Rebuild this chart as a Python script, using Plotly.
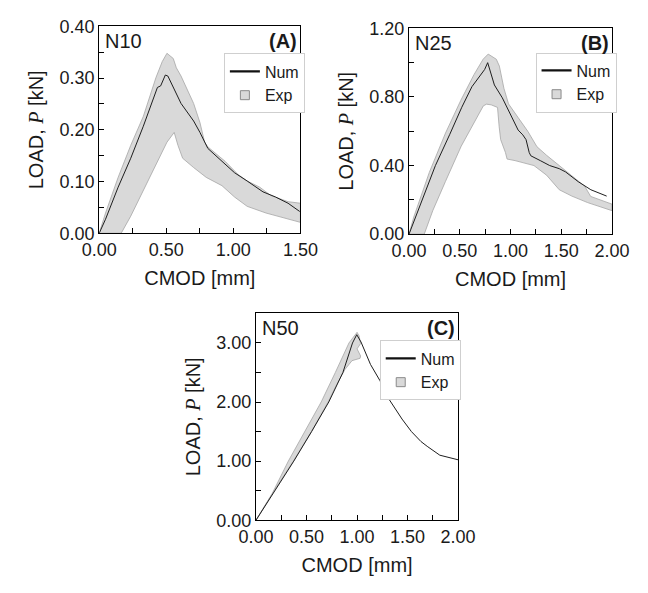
import plotly.graph_objects as go

# ---------------- N10 ----------------
a_num_x = [0.0, 0.047, 0.141, 0.235, 0.329, 0.434, 0.458, 0.493, 0.512, 0.563, 0.610,
           0.704, 0.751, 0.810, 0.892, 1.009, 1.103, 1.221, 1.315, 1.408, 1.495]
a_num_y = [0.0, 0.027, 0.089, 0.145, 0.207, 0.282, 0.285, 0.306, 0.304, 0.276, 0.251,
           0.217, 0.195, 0.164, 0.145, 0.117, 0.101, 0.080, 0.070, 0.058, 0.042]

a_exp_up_x = [0.0, 0.047, 0.141, 0.235, 0.329, 0.423, 0.470, 0.505, 0.552, 0.575, 0.610,
              0.669, 0.704, 0.751, 0.786, 0.810, 0.939, 1.033, 1.103, 1.197, 1.279, 1.408, 1.5]
a_exp_up_y = [0.0, 0.039, 0.108, 0.170, 0.226, 0.301, 0.332, 0.348, 0.338, 0.320, 0.304,
              0.270, 0.251, 0.214, 0.176, 0.167, 0.139, 0.114, 0.101, 0.089, 0.073, 0.061, 0.058]
a_exp_lo_x = [0.0, 0.164, 0.235, 0.329, 0.423, 0.505, 0.559, 0.587, 0.622, 0.704, 0.798,
              0.915, 1.009, 1.103, 1.244, 1.408, 1.5]
a_exp_lo_y = [0.0, 0.0, 0.033, 0.083, 0.133, 0.176, 0.195, 0.170, 0.145, 0.127, 0.108,
              0.092, 0.070, 0.052, 0.039, 0.027, 0.021]

# ---------------- N25 ----------------
b_num_x = [0.0, 0.13, 0.26, 0.40, 0.52, 0.62, 0.70, 0.745, 0.775, 0.81, 0.841, 0.919,
           0.981, 1.075, 1.121, 1.153, 1.184, 1.20, 1.293, 1.386, 1.48, 1.542, 1.667,
           1.791, 1.947]
b_num_y = [0.0, 0.20, 0.40, 0.58, 0.74, 0.86, 0.92, 0.96, 1.0, 0.927, 0.870, 0.795,
           0.720, 0.607, 0.579, 0.551, 0.476, 0.457, 0.429, 0.400, 0.382, 0.363, 0.306,
           0.259, 0.222]

b_exp_up_x = [0.0, 0.047, 0.20, 0.36, 0.51, 0.64, 0.73, 0.78, 0.86, 0.89, 0.935, 0.98,
              1.075, 1.17, 1.26, 1.355, 1.48, 1.60, 1.73, 1.79, 1.92, 2.0]
b_exp_up_y = [0.0, 0.10, 0.36, 0.59, 0.78, 0.93, 1.02, 1.05, 1.02, 0.98, 0.85, 0.76,
              0.68, 0.60, 0.51, 0.46, 0.40, 0.34, 0.28, 0.22, 0.19, 0.175]
b_exp_lo_x = [0.0, 0.15, 0.234, 0.358, 0.514, 0.67, 0.732, 0.763, 0.81, 0.872, 0.888,
              0.903, 0.95, 0.966, 1.044, 1.231, 1.355, 1.48, 1.604, 1.76, 2.0]
b_exp_lo_y = [0.0, 0.0, 0.137, 0.306, 0.513, 0.682, 0.748, 0.758, 0.754, 0.739, 0.626,
              0.551, 0.476, 0.438, 0.429, 0.400, 0.344, 0.259, 0.222, 0.184, 0.137]

# ---------------- N50 ----------------
c_num_x = [0.0, 0.19, 0.374, 0.55, 0.72, 0.86, 0.955, 0.997, 1.039, 1.133, 1.226,
           1.32, 1.445, 1.538, 1.632, 1.694, 1.788, 1.819, 2.0]
c_num_y = [0.0, 0.50, 1.00, 1.50, 2.00, 2.50, 3.00, 3.14, 3.016, 2.636, 2.364,
           2.038, 1.712, 1.50, 1.332, 1.25, 1.13, 1.10, 1.022]

c_exp_up_x = [0.0, 0.16, 0.32, 0.48, 0.645, 0.785, 0.92, 1.0, 1.02, 1.035, 1.0, 1.035, 1.03]
c_exp_up_y = [0.0, 0.45, 1.00, 1.50, 2.00, 2.50, 3.00, 3.18, 3.12, 2.99, 2.90, 2.78, 2.74]
c_exp_lo_x = [0.0, 0.18, 0.37, 0.55, 0.72, 0.80, 0.88, 0.95, 1.03]
c_exp_lo_y = [0.0, 0.50, 1.00, 1.50, 2.02, 2.30, 2.55, 2.70, 2.74]

# ---------------- styling ----------------
W, H = 648, 593
FONT = "Liberation Sans, Arial, sans-serif"
INK = "#1a1a1a"
BAND_FILL = "#d9d9d9"
BAND_EDGE = "#a6a6a6"
LINE_COL = "#1e1e1e"


def px_x(p):
    return p / W


def px_y(p):
    return 1 - p / H


def band(up_x, up_y, lo_x, lo_y):
    xs = list(up_x) + list(reversed(lo_x))
    ys = list(up_y) + list(reversed(lo_y))
    return xs, ys


panels = [
    dict(name="N10", tag="(A)", num=(a_num_x, a_num_y),
         exp=band(a_exp_up_x, a_exp_up_y, a_exp_lo_x, a_exp_lo_y),
         xd=(86, 299), yd=(17, 231), xr=[0, 1.5], yr=[0, 0.4],
         xdt=0.5, ydt=0.1, leg=(218, 45)),
    dict(name="N25", tag="(B)", num=(b_num_x, b_num_y),
         exp=band(b_exp_up_x, b_exp_up_y, b_exp_lo_x, b_exp_lo_y),
         xd=(414, 629), yd=(19, 232), xr=[0, 2.0], yr=[0, 1.2],
         xdt=0.5, ydt=0.4, leg=(548, 44)),
    dict(name="N50", tag="(C)", num=(c_num_x, c_num_y),
         exp=band(c_exp_up_x, c_exp_up_y, c_exp_lo_x, c_exp_lo_y),
         xd=(252, 466), yd=(314, 528), xr=[0, 2.0], yr=[0, 3.5],
         xdt=0.5, ydt=1.0, leg=(383, 342)),
]

fig = go.Figure()
layout = dict(
    width=W, height=H,
    margin=dict(l=0, r=0, t=0, b=0),
    paper_bgcolor="white", plot_bgcolor="white",
    font=dict(family=FONT, size=18, color=INK),
    annotations=[],
)

ytitle = "LOAD, <span style='font-family:Liberation Serif'><i>P</i></span> [kN]"

for i, p in enumerate(panels):
    sfx = "" if i == 0 else str(i + 1)
    xa, ya = "x" + sfx, "y" + sfx
    leg = "legend" + sfx

    ex, ey = p["exp"]
    fig.add_trace(go.Scatter(
        x=ex, y=ey, mode="lines", fill="toself", fillcolor=BAND_FILL,
        line=dict(color=BAND_EDGE, width=0.8), showlegend=False,
        xaxis=xa, yaxis=ya, hoverinfo="skip"))
    nx, ny = p["num"]
    fig.add_trace(go.Scatter(
        x=nx, y=ny, mode="lines", line=dict(color=LINE_COL, width=1.0),
        showlegend=False, xaxis=xa, yaxis=ya))
    # legend entries
    fig.add_trace(go.Scatter(
        x=[None], y=[None], mode="lines", name="Num",
        line=dict(color="#111111", width=2.2), legend=leg, xaxis=xa, yaxis=ya))
    fig.add_trace(go.Scatter(
        x=[None], y=[None], mode="markers", name="Exp",
        marker=dict(symbol="square", size=9, color=BAND_FILL,
                    line=dict(color="#8a8a8a", width=1)),
        legend=leg, xaxis=xa, yaxis=ya))

    common = dict(
        showline=True, linecolor="black", linewidth=1, mirror=True,
        ticks="inside", ticklen=5, tickwidth=1, tickcolor="black",
        showgrid=False, zeroline=False, tickformat=".2f",
        tickfont=dict(size=18, color=INK, family=FONT),
    )
    layout["xaxis" + sfx] = dict(
        common, domain=[px_x(p["xd"][0]), px_x(p["xd"][1])], anchor=ya,
        range=p["xr"], dtick=p["xdt"], tick0=0,
        minor=dict(ticks="inside", ticklen=5, tickcolor="black", dtick=p["xdt"] / 2),
        title=dict(text="CMOD [mm]", font=dict(size=20, family=FONT, color=INK),
                   standoff=12),
    )
    layout["yaxis" + sfx] = dict(
        common, domain=[px_y(p["yd"][1]), px_y(p["yd"][0])], anchor=xa,
        range=p["yr"], dtick=p["ydt"], tick0=0,
        minor=dict(ticks="inside", ticklen=5, tickcolor="black", dtick=p["ydt"] / 2),
        title=dict(text=ytitle, font=dict(size=20, family=FONT, color=INK),
                   standoff=10),
    )
    layout[leg] = dict(
        x=px_x(p["leg"][0]), y=px_y(p["leg"][1]), xanchor="left", yanchor="top",
        bgcolor="white", bordercolor="#cfcfcf", borderwidth=1,
        font=dict(size=16, family=FONT, color=INK), tracegroupgap=0,
    )
    cy = px_y(p["yd"][0] + 15.5)
    layout["annotations"].append(dict(
        text=p["name"], x=px_x(p["xd"][0] + 4), y=cy, xref="paper", yref="paper",
        xanchor="left", yanchor="middle", showarrow=False,
        font=dict(size=20, family=FONT, color=INK)))
    layout["annotations"].append(dict(
        text="<b>" + p["tag"] + "</b>", x=px_x(p["xd"][1] - 1), y=cy,
        xref="paper", yref="paper", xanchor="right", yanchor="middle",
        showarrow=False, font=dict(size=20, family=FONT, color=INK)))

fig.update_layout(**layout)
fig.write_html("out.html")
